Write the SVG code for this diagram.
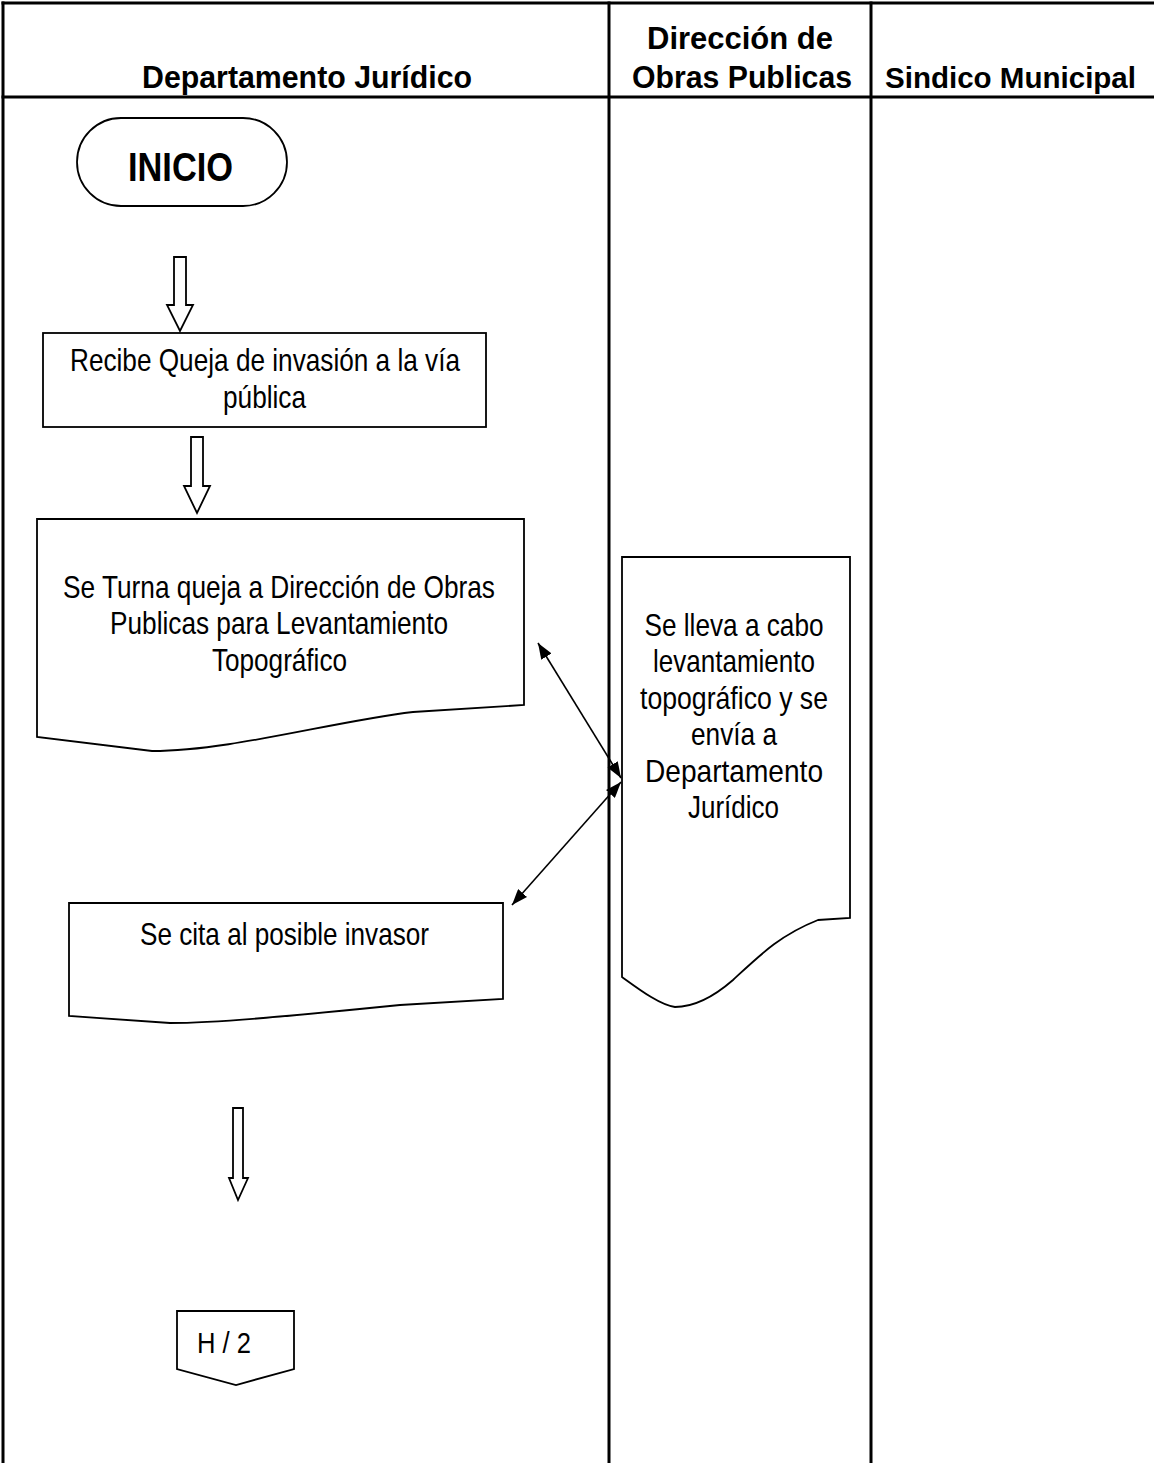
<svg xmlns="http://www.w3.org/2000/svg" width="1154" height="1463" viewBox="0 0 1154 1463">
<defs>
<style>
.grid{stroke:#000;stroke-width:3;fill:none}
.shape{stroke:#000;stroke-width:1.8;fill:#fff}
.hdr{font-family:"Liberation Sans",Arial,sans-serif;font-weight:bold;font-size:32px;fill:#000}
.txt{font-family:"Liberation Sans",Arial,sans-serif;font-size:32px;fill:#000}
.conn{stroke:#000;stroke-width:1.6;fill:none}
</style>
<marker id="ah" viewBox="0 0 16 12" markerWidth="16" markerHeight="12" refX="16" refY="6" orient="auto-start-reverse" markerUnits="userSpaceOnUse">
<path d="M0,0 L16,6 L0,12 z" fill="#000"/>
</marker>
</defs>
<rect width="1154" height="1463" fill="#fff"/>
<g id="table">
<line class="grid" x1="1.5" y1="3" x2="1154" y2="3"/>
<line class="grid" x1="3" y1="1.5" x2="3" y2="1463"/>
<line class="grid" x1="1.5" y1="97" x2="1154" y2="97"/>
<line class="grid" x1="609" y1="1.5" x2="609" y2="1463"/>
<line class="grid" x1="871" y1="1.5" x2="871" y2="1463"/>
<text class="hdr" x="142" y="88" textLength="330" lengthAdjust="spacingAndGlyphs">Departamento Jurídico</text>
<text class="hdr" x="647" y="49" textLength="186" lengthAdjust="spacingAndGlyphs">Dirección de</text>
<text class="hdr" x="632" y="88" textLength="220" lengthAdjust="spacingAndGlyphs">Obras Publicas</text>
<text class="hdr" style="font-size:30px" x="885" y="88" textLength="251" lengthAdjust="spacingAndGlyphs">Sindico Municipal</text>
</g>
<g id="inicio">
<rect class="shape" x="77" y="118" width="210" height="88" rx="44" ry="44"/>
<text class="hdr" style="font-size:40px" x="128" y="181" textLength="105" lengthAdjust="spacingAndGlyphs">INICIO</text>
</g>
<g id="recibe">
<rect class="shape" x="43" y="333" width="443" height="94"/>
<text class="txt" x="70" y="371" textLength="390" lengthAdjust="spacingAndGlyphs">Recibe Queja de invasión a la vía</text>
<text class="txt" x="223" y="408" textLength="83" lengthAdjust="spacingAndGlyphs">pública</text>
</g>
<g id="turna">
<path class="shape" d="M37,519 H524 V705 L413,712 C330,722 230,751 152,751 L37,737 Z"/>
<text class="txt" x="63" y="598" textLength="432" lengthAdjust="spacingAndGlyphs">Se Turna queja a Dirección de Obras</text>
<text class="txt" x="110" y="634" textLength="338" lengthAdjust="spacingAndGlyphs">Publicas para Levantamiento</text>
<text class="txt" x="212" y="671" textLength="135" lengthAdjust="spacingAndGlyphs">Topográfico</text>
</g>
<g id="levantamiento">
<path class="shape" d="M622,557 H850 V918 L818,920 C780,935 760,955 733,980 C710,1000 690,1007 675,1007 C660,1005 640,990 622,977 Z"/>
<text class="txt" x="644.5" y="636" textLength="179" lengthAdjust="spacingAndGlyphs">Se lleva a cabo</text>
<text class="txt" x="653" y="672" textLength="162" lengthAdjust="spacingAndGlyphs">levantamiento</text>
<text class="txt" x="640" y="709" textLength="188" lengthAdjust="spacingAndGlyphs">topográfico y se</text>
<text class="txt" x="691" y="745" textLength="86" lengthAdjust="spacingAndGlyphs">envía a</text>
<text class="txt" x="645" y="782" textLength="178" lengthAdjust="spacingAndGlyphs">Departamento</text>
<text class="txt" x="688" y="818" textLength="91" lengthAdjust="spacingAndGlyphs">Jurídico</text>
</g>
<g id="cita">
<path class="shape" d="M69,903 H503 V999 L400,1005 C300,1015 220,1023 170,1023 L69,1016 Z"/>
<text class="txt" x="140" y="945" textLength="289" lengthAdjust="spacingAndGlyphs">Se cita al posible invasor</text>
</g>
<g id="h2">
<polygon class="shape" points="177,1311 294,1311 294,1369 236,1385 177,1369"/>
<text class="txt" style="font-size:30px" x="197" y="1353" textLength="54" lengthAdjust="spacingAndGlyphs">H / 2</text>
</g>
<g id="connectors">
<polygon class="shape" points="174,257 186,257 186,305 193,305 180,331 167,305 174,305"/>
<polygon class="shape" points="191,437 203,437 203,486 210,486 197,513 184,486 191,486"/>
<polygon class="shape" points="233,1108 243,1108 243,1178 248,1178 238,1200 229,1178 233,1178"/>
<line class="conn" x1="538" y1="643" x2="621" y2="778" marker-start="url(#ah)" marker-end="url(#ah)"/>
<line class="conn" x1="621" y1="782" x2="512" y2="905" marker-start="url(#ah)" marker-end="url(#ah)"/>
</g>
</svg>
